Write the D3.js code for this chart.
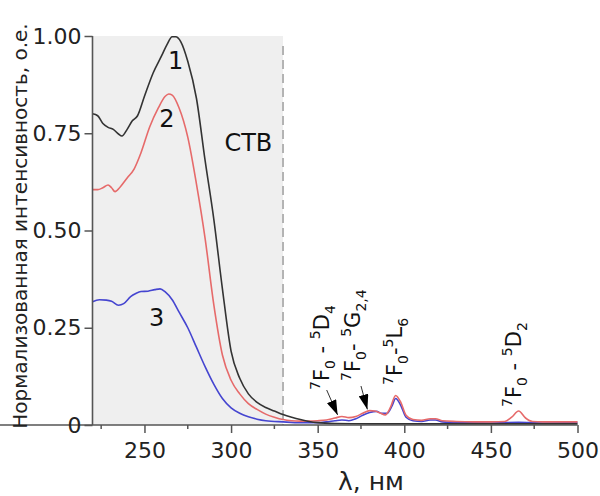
<html>
<head>
<meta charset="utf-8">
<script src="https://d3js.org/d3.v7.min.js"></script>
<style>
body { margin: 0; background: #fff; font-family: 'DejaVu Sans', Verdana, sans-serif; }
</style>
</head>
<body>
<div id="chart"></div>
<script>
  // excitation spectra: [wavelength nm, normalized intensity]
  var curve1 = [[220,0.800],[223,0.795],[226,0.775],[229,0.765],[232,0.760],[235,0.748],[237,0.743],
    [240,0.760],[243,0.782],[246,0.795],[250,0.845],[255,0.905],[260,0.950],[263,0.978],[266,0.998],
    [268,0.998],[271,0.985],[275,0.935],[280,0.840],[285,0.680],[290,0.530],[295,0.350],[300,0.190],
    [305,0.120],[310,0.080],[315,0.058],[320,0.045],[325,0.036],[330,0.027],[335,0.020],[340,0.014],
    [345,0.009],[350,0.006],[360,0.004],[380,0.003],[400,0.003],[450,0.003],[500,0.003]];

  var curve2 = [[220,0.605],[223,0.605],[226,0.610],[229,0.617],[231,0.610],[233,0.600],[236,0.612],
    [240,0.635],[244,0.658],[248,0.700],[253,0.766],[258,0.815],[262,0.845],[264,0.851],[266,0.848],
    [270,0.815],[275,0.740],[280,0.620],[285,0.480],[290,0.310],[295,0.180],[300,0.115],[305,0.080],
    [310,0.055],[315,0.040],[320,0.028],[325,0.020],[330,0.014],[335,0.011],[340,0.010],[345,0.010],
    [350,0.011],[355,0.013],[360,0.018],[364,0.022],[368,0.019],[372,0.022],[376,0.030],[380,0.037],
    [383,0.036],[386,0.031],[389,0.026],[392,0.045],[395,0.076],[398,0.058],[401,0.025],[405,0.014],
    [410,0.012],[415,0.016],[418,0.016],[422,0.011],[430,0.009],[440,0.008],[450,0.008],[458,0.009],
    [462,0.020],[466,0.036],[470,0.018],[474,0.009],[480,0.008],[490,0.008],[500,0.008]];

  var curve3 = [[220,0.317],[224,0.322],[228,0.321],[231,0.318],[235,0.308],[238,0.312],[242,0.330],
    [245,0.338],[248,0.343],[252,0.344],[256,0.348],[259,0.350],[262,0.342],[266,0.322],[270,0.290],
    [275,0.250],[280,0.200],[285,0.150],[290,0.105],[295,0.068],[300,0.044],[305,0.030],[310,0.021],
    [315,0.015],[320,0.011],[330,0.008],[340,0.006],[350,0.006],[355,0.008],[360,0.011],[364,0.013],
    [368,0.011],[372,0.016],[376,0.025],[380,0.032],[384,0.035],[387,0.030],[390,0.030],[393,0.050],
    [395,0.068],[398,0.050],[401,0.020],[405,0.011],[410,0.009],[415,0.013],[418,0.013],[422,0.008],
    [430,0.006],[450,0.005],[466,0.007],[480,0.005],[500,0.006]];

  var xTicks = [250, 300, 350, 400, 450, 500];
  var xMinor = [225, 275, 325, 375, 425, 475];
  var yTicks = [0, 0.25, 0.5, 0.75, 1];
  var yTickLabels = ["0", "0.25", "0.50", "0.75", "1.00"];
  var stbEdge = 330; // end of shaded band

  var width = 600, height = 496;
  var svg = d3.select("#chart").append("svg")
    .attr("width", width).attr("height", height);

  var x = d3.scaleLinear().domain([220, 500]).range([92.5, 577.5]);
  var y = d3.scaleLinear().domain([0, 1]).range([425, 36]);

  // shaded band + dashed boundary
  svg.append("rect")
    .attr("x", x(220)).attr("y", y(1))
    .attr("width", x(stbEdge) - x(220)).attr("height", y(0) - y(1))
    .attr("fill", "#efefef");
  svg.append("line")
    .attr("x1", x(stbEdge)).attr("x2", x(stbEdge))
    .attr("y1", y(1) + 10).attr("y2", y(0))
    .attr("stroke", "#888").attr("stroke-width", 1.2)
    .attr("stroke-dasharray", "9,5");

  svg.append("text").attr("x", x(310)).attr("y", y(0.705))
    .attr("text-anchor", "middle").attr("font-size", 24).attr("fill", "#111")
    .text("СТВ");

  // curves
  var line = d3.line()
    .x(function(d) { return x(d[0]); })
    .y(function(d) { return y(d[1]); })
    .curve(d3.curveMonotoneX);

  var series = [
    { data: curve3, color: "#4545d0" },
    { data: curve2, color: "#e66a6a" },
    { data: curve1, color: "#333" }
  ];
  series.forEach(function(s) {
    svg.append("path").datum(s.data)
      .attr("d", line)
      .attr("fill", "none")
      .attr("stroke", s.color)
      .attr("stroke-width", 1.6);
  });

  // axes
  var xAxis = svg.append("g").attr("transform", "translate(0," + y(0) + ")")
    .call(d3.axisBottom(x).tickValues(xTicks).tickSize(8).tickPadding(9));
  xMinor.forEach(function(v) {
    xAxis.append("line").attr("x1", x(v)).attr("x2", x(v))
      .attr("y1", 0).attr("y2", 4).attr("stroke", "#555").attr("stroke-width", 1.5);
  });

  var yAxis = svg.append("g").attr("transform", "translate(" + x(220) + ",0)")
    .call(d3.axisLeft(y).tickValues(yTicks)
      .tickFormat(function(d, i) { return yTickLabels[i]; })
      .tickSize(8).tickPadding(3));

  [xAxis, yAxis].forEach(function(a) {
    a.select(".domain").attr("stroke", "#555").attr("stroke-width", 1.6);
    a.selectAll(".tick line").attr("stroke", "#555").attr("stroke-width", 1.5);
    a.selectAll(".tick text").attr("font-size", 22).attr("fill", "#222")
      .attr("font-family", "'DejaVu Sans', Verdana, sans-serif");
  });
  yAxis.select(".domain").attr("d", "M0," + y(1) + "V" + y(0));
  xAxis.select(".domain").attr("d", "M0,0H" + x(500));

  // axis titles
  svg.append("text")
    .attr("transform", "translate(27," + 226 + ") rotate(-90)")
    .attr("text-anchor", "middle").attr("font-size", 20).attr("fill", "#222")
    .text("Нормализованная интенсивность, о.е.");
  svg.append("text").attr("x", 371).attr("y", 490)
    .attr("text-anchor", "middle").attr("font-size", 25).attr("fill", "#222")
    .text("λ, нм");

  // curve numbers
  var numbers = [["1", 268, 0.915], ["2", 263, 0.765], ["3", 257, 0.255]];
  numbers.forEach(function(n) {
    svg.append("text").attr("x", x(n[1])).attr("y", y(n[2]))
      .attr("text-anchor", "middle").attr("font-size", 24).attr("fill", "#111")
      .text(n[0]);
  });

  // transition labels, written bottom-to-top
  function transition(parts, lam, yb) {
    var t = svg.append("text")
      .attr("transform", "translate(" + x(lam) + "," + yb + ") rotate(-90)")
      .attr("fill", "#111");
    var shift = 0;
    parts.forEach(function(p) {
      var target = p[1] == "sup" ? -9 : (p[1] == "sub" ? 6 : 0);
      t.append("tspan")
        .attr("dy", target - shift)
        .style("font-size", (p[1] == "n" ? 21 : 14) + "px")
        .text(p[0]);
      shift = target;
    });
  }
  transition([["7","sup"],["F","n"],["0","sub"],[" - ","n"],["5","sup"],["D","n"],["4","sub"]], 356.5, 390);
  transition([["7","sup"],["F","n"],["0","sub"],["- ","n"],["5","sup"],["G","n"],["2,4","sub"]], 374.5, 381);
  transition([["7","sup"],["F","n"],["0","sub"],["-","n"],["5","sup"],["L","n"],["6","sub"]], 398.8, 385);
  transition([["7","sup"],["F","n"],["0","sub"],[" - ","n"],["5","sup"],["D","n"],["2","sub"]], 467.4, 407);

  // arrows
  svg.append("defs").append("marker")
    .attr("id", "head").attr("viewBox", "0 0 10 10")
    .attr("refX", 10).attr("refY", 5)
    .attr("markerWidth", 15).attr("markerHeight", 10)
    .attr("markerUnits", "userSpaceOnUse")
    .attr("orient", "auto")
    .attr("preserveAspectRatio", "none")
    .append("path").attr("d", "M0,0L10,5L0,10Z").attr("fill", "#000");
  var arrows = [[355.2, 390, 361.5, 0.026], [375.0, 386, 378.7, 0.040]];
  arrows.forEach(function(a) {
    svg.append("line")
      .attr("x1", x(a[0])).attr("y1", a[1])
      .attr("x2", x(a[2])).attr("y2", y(a[3]))
      .attr("stroke", "#333").attr("stroke-width", 1)
      .attr("marker-end", "url(#head)");
  });
</script>
</body>
</html>
